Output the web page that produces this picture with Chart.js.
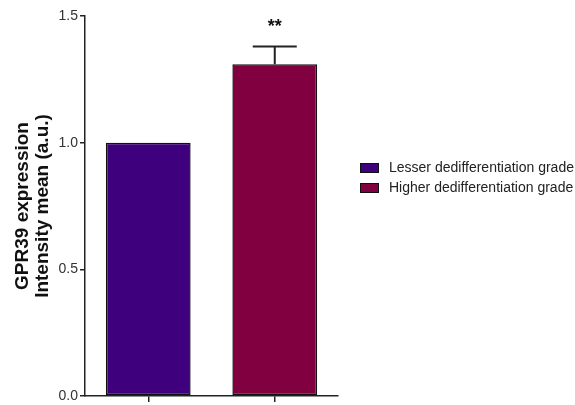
<!DOCTYPE html>
<html>
<head>
<meta charset="utf-8">
<script src="https://cdn.jsdelivr.net/npm/chart.js@4"></script>
<style>
  html, body { margin: 0; padding: 0; background: #fff; }
  #wrap { width: 575px; height: 405px; }
</style>
</head>
<body>
<div id="wrap"><canvas id="c" width="575" height="405"></canvas></div>
<script>
// GPR39 expression by dedifferentiation grade
const groups = ["Lesser dedifferentiation grade", "Higher dedifferentiation grade"];
const means = [1.0, 1.31];
const errors = [0, 0.07];
const significance = ["", "**"];
const barColors = ["#3e007c", "#800040"];
const yTicks = [0, 0.5, 1.0, 1.5];

const FONT = "'Liberation Sans', Arial, sans-serif";

// error bars and significance marks above each bar
const errorBarPlugin = {
  id: 'errorBars',
  afterDatasetsDraw(chart) {
    const ctx = chart.ctx;
    const meta = chart.getDatasetMeta(0);
    const y = chart.scales.y;
    ctx.save();
    meta.data.forEach((bar, i) => {
      const top = means[i] + errors[i];
      if (errors[i] > 0) {
        const yTop = y.getPixelForValue(top);
        const yMean = y.getPixelForValue(means[i]);
        ctx.strokeStyle = '#222';
        ctx.lineWidth = 2;
        ctx.beginPath();
        ctx.moveTo(bar.x, yMean);
        ctx.lineTo(bar.x, yTop);
        ctx.moveTo(bar.x - 22, yTop);
        ctx.lineTo(bar.x + 22, yTop);
        ctx.stroke();
      }
      if (significance[i]) {
        ctx.fillStyle = '#111';
        ctx.font = 'bold 18px ' + FONT;
        ctx.textAlign = 'center';
        ctx.textBaseline = 'middle';
        ctx.fillText(significance[i], bar.x, y.getPixelForValue(top) - 19);
      }
    });
    ctx.restore();
  }
};

// legend drawn to the right of the plot
const sideLegend = {
  id: 'sideLegend',
  afterDraw(chart) {
    const ctx = chart.ctx;
    ctx.save();
    ctx.font = '14px ' + FONT;
    ctx.textBaseline = 'middle';
    groups.forEach((g, i) => {
      const cy = 168 + i * 20;
      ctx.fillStyle = barColors[i];
      ctx.fillRect(360, cy - 5, 19, 10);
      ctx.strokeStyle = '#111';
      ctx.lineWidth = 1;
      ctx.strokeRect(360.5, cy - 4.5, 18, 9);
      ctx.fillStyle = '#222';
      ctx.fillText(g, 389, cy);
    });
    ctx.restore();
  }
};

new Chart(document.getElementById('c'), {
  type: 'bar',
  data: {
    labels: groups,
    datasets: [{
      data: means,
      backgroundColor: barColors,
      borderColor: '#111',
      borderWidth: 1.5,
      borderSkipped: false,
      categoryPercentage: 1.0,
      barPercentage: 0.67
    }]
  },
  options: {
    responsive: false,
    animation: false,
    devicePixelRatio: 1,
    layout: { padding: { top: 16, right: 237, left: 0, bottom: 0 } },
    plugins: { legend: { display: false }, tooltip: { enabled: false } },
    scales: {
      x: {
        grid: { display: true, drawOnChartArea: false, drawTicks: true, tickLength: 6, color: '#222', lineWidth: 1.5, offset: false },
        border: { display: true, color: '#222', width: 1.5 },
        ticks: { display: false },
        afterFit(scale) { scale.height = 9; }
      },
      y: {
        min: 0,
        max: 1.5,
        afterBuildTicks(scale) { scale.ticks = yTicks.map(v => ({ value: v })); },
        grid: { display: true, drawOnChartArea: false, drawTicks: true, tickLength: 5, color: '#222', lineWidth: 1.5 },
        border: { display: true, color: '#222', width: 1.5 },
        ticks: {
          color: '#333',
          font: { family: FONT, size: 14, lineHeight: 0.8 },
          padding: 2,
          callback: v => Number(v).toFixed(1)
        },
        title: {
          display: true,
          text: ['GPR39 expression', 'Intensity mean (a.u.)'],
          color: '#111',
          font: { family: FONT, size: 19, weight: 'bold', lineHeight: 1.05 },
          padding: { top: 13, bottom: 4 }
        },
        afterFit(scale) { scale.width = 85; }
      }
    }
  },
  plugins: [errorBarPlugin, sideLegend]
});
</script>
</body>
</html>
